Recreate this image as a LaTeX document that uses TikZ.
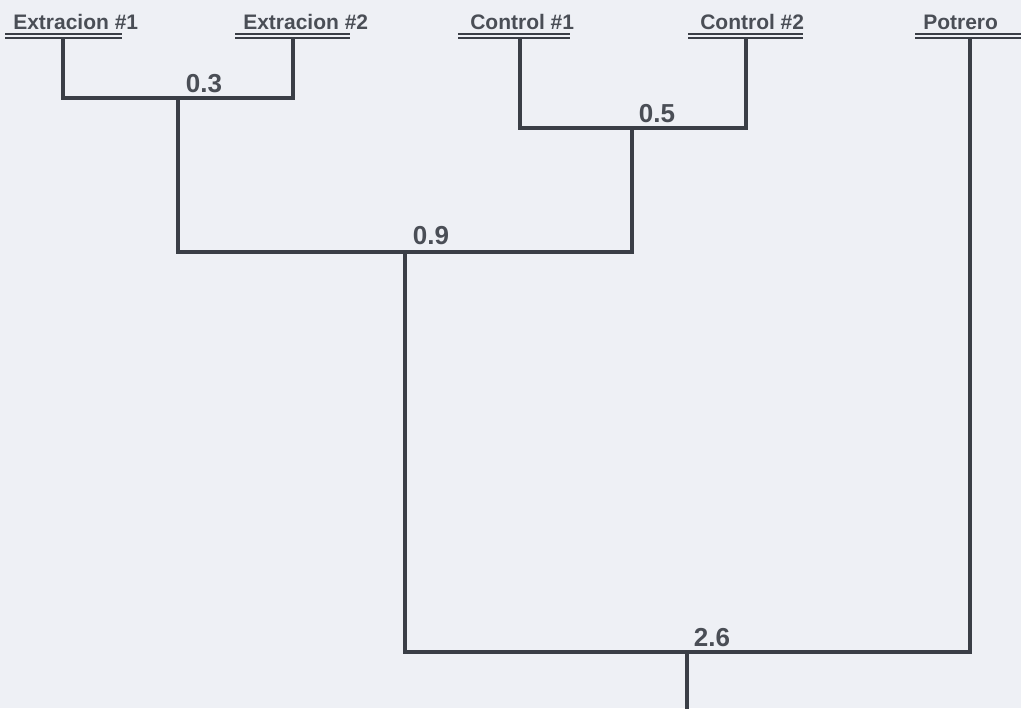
\documentclass[tikz,border=0pt]{standalone}
\usepackage{fontspec}
\setmainfont{Liberation Sans}
\definecolor{bg}{RGB}{238,240,245}
\definecolor{ink}{RGB}{58,62,70}
\definecolor{txt}{RGB}{74,78,86}
\tikzset{
  leaf/.style={anchor=base west, inner sep=0pt, text=txt, font=\bfseries\fontsize{15.75}{18}\selectfont},
  num/.style={anchor=base, inner sep=0pt, text=txt, font=\bfseries\fontsize{19.5}{22}\selectfont},
  branch/.style={draw=ink, line width=2.6pt},
  uline/.style={draw=ink, line width=1.5pt}
}
\begin{document}
\begin{tikzpicture}[x=0.75pt,y=-0.75pt]
\fill[bg] (0,0) rectangle (1021,708);
\useasboundingbox (0,0) rectangle (1021,708);
% leaf labels
\node[leaf] (t1) at (13,29) {Extracion \#1};
\node[leaf] (t2) at (243,29) {Extracion \#2};
\node[leaf] (t3) at (470,29) {Control \#1};
\node[leaf] (t4) at (700,29) {Control \#2};
\node[leaf] (t5) at (923,29) {Potrero};
% double underlines
\foreach \a/\b in {5/122,235/350,458/570,688/803,915/1021}{
  \draw[uline] (\a,34) -- (\b,34);
  \draw[uline] (\a,38) -- (\b,38);
}
% leaf attachment points
\coordinate (e1) at (63,38);
\coordinate (e2) at (293,38);
\coordinate (c1) at (520,38);
\coordinate (c2) at (746,38);
\coordinate (p)  at (970,38);
% junctions
\coordinate (j1) at (178,98);
\coordinate (j2) at (632,128);
\coordinate (j3) at (405,252);
\coordinate (j4) at (687,652);
\coordinate (root) at (687,710);
% branches
\draw[branch] (e1) |- (j1) -| (e2);
\draw[branch] (c1) |- (j2) -| (c2);
\draw[branch] (j1) |- (j3) -| (j2);
\draw[branch] (j3) |- (j4) -| (p);
\draw[branch] (j4) -- (root);
% distances
\node[num] (n1) at (204,92) {0.3};
\node[num] (n2) at (657,122) {0.5};
\node[num] (n3) at (431,244) {0.9};
\node[num] (n4) at (712,646) {2.6};
\end{tikzpicture}
\end{document}
